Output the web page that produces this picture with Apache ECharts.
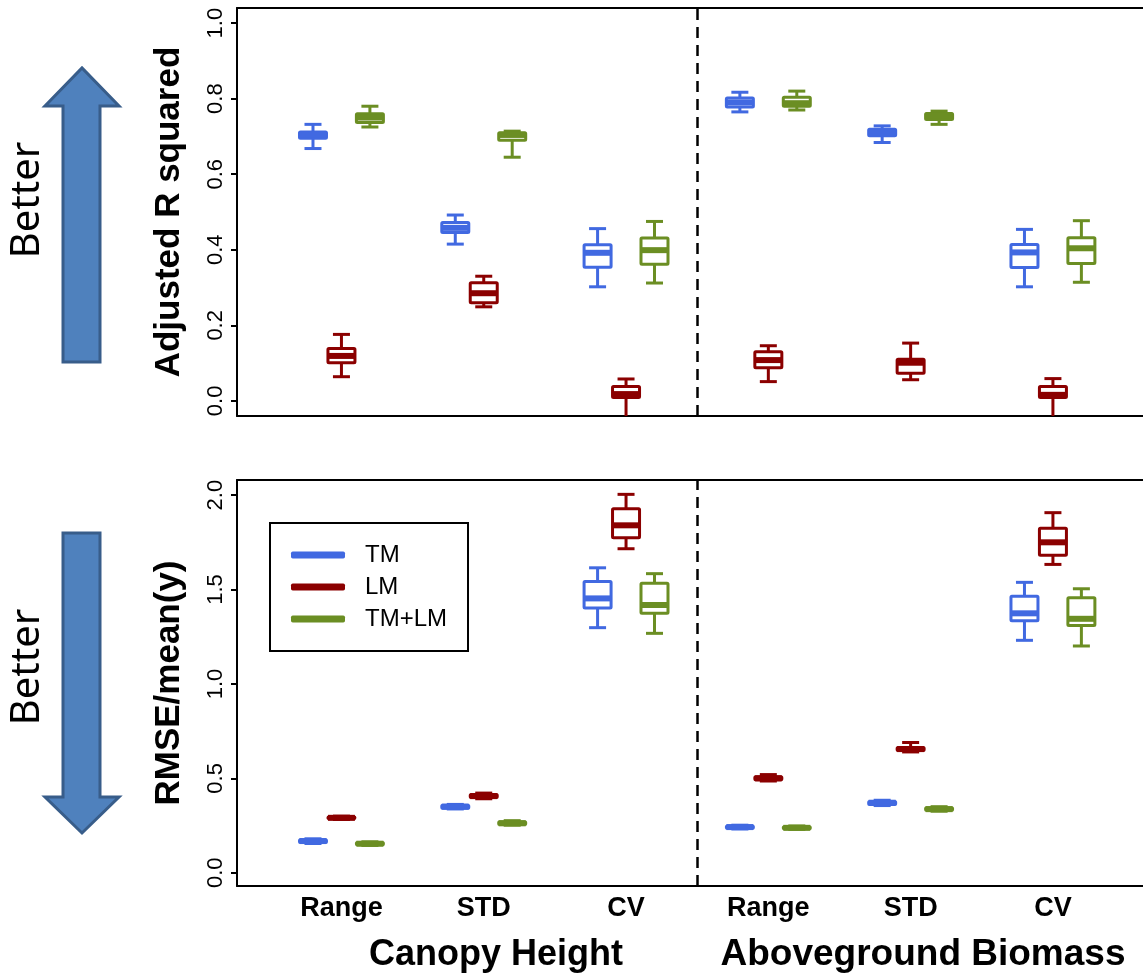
<!DOCTYPE html>
<html>
<head>
<meta charset="utf-8">
<title>Adjusted R squared / RMSE boxplots</title>
<script src="https://cdn.jsdelivr.net/npm/echarts@6/dist/echarts.min.js"></script>
<style>
    html, body { margin: 0; padding: 0; background: #fff; }
    #chart { width: 1143px; height: 975px; }
</style>
</head>
<body>
<div id="chart"></div>
<script>
// categories along the x axis (two groups of three)
var categories = ['Range', 'STD', 'CV', 'Range', 'STD', 'CV'];
var groupTitles = ['Canopy Height', 'Aboveground Biomass'];
var modelNames = ['TM', 'LM', 'TM+LM'];

// each box: [low whisker, Q1, median, Q3, high whisker]
// top panel: adjusted R squared
var r2TM = [
    [0.668, 0.695, 0.704, 0.712, 0.732],
    [0.415, 0.446, 0.458, 0.472, 0.492],
    [0.302, 0.354, 0.392, 0.413, 0.456],
    [0.765, 0.778, 0.790, 0.802, 0.817],
    [0.684, 0.702, 0.711, 0.719, 0.728],
    [0.302, 0.353, 0.393, 0.414, 0.454]
];
var r2LM = [
    [0.064, 0.101, 0.119, 0.139, 0.176],
    [0.249, 0.260, 0.285, 0.313, 0.330],
    [-0.060, 0.009, 0.018, 0.038, 0.058],
    [0.051, 0.088, 0.108, 0.130, 0.146],
    [0.056, 0.073, 0.101, 0.110, 0.153],
    [-0.060, 0.009, 0.016, 0.038, 0.059]
];
var r2TMLM = [
    [0.725, 0.737, 0.750, 0.760, 0.780],
    [0.645, 0.690, 0.704, 0.710, 0.714],
    [0.312, 0.362, 0.399, 0.431, 0.475],
    [0.770, 0.780, 0.788, 0.804, 0.820],
    [0.732, 0.745, 0.755, 0.761, 0.767],
    [0.314, 0.364, 0.404, 0.432, 0.477]
];

// bottom panel: RMSE / mean(y)
var rmseTM = [
    [0.155, 0.160, 0.168, 0.175, 0.180],
    [0.338, 0.342, 0.350, 0.358, 0.362],
    [1.298, 1.402, 1.453, 1.543, 1.615],
    [0.232, 0.236, 0.242, 0.248, 0.252],
    [0.356, 0.362, 0.371, 0.378, 0.384],
    [1.231, 1.335, 1.374, 1.464, 1.538]
];
var rmseLM = [
    [0.282, 0.286, 0.291, 0.296, 0.300],
    [0.392, 0.398, 0.406, 0.414, 0.422],
    [1.716, 1.774, 1.840, 1.928, 2.004],
    [0.486, 0.492, 0.500, 0.508, 0.520],
    [0.640, 0.647, 0.655, 0.664, 0.690],
    [1.633, 1.681, 1.750, 1.824, 1.907]
];
var rmseTMLM = [
    [0.145, 0.149, 0.154, 0.160, 0.164],
    [0.252, 0.256, 0.262, 0.270, 0.276],
    [1.268, 1.374, 1.418, 1.533, 1.584],
    [0.230, 0.233, 0.238, 0.244, 0.248],
    [0.326, 0.331, 0.337, 0.344, 0.350],
    [1.201, 1.310, 1.345, 1.457, 1.504]
];

var r2Ticks = [0, 0.2, 0.4, 0.6, 0.8, 1.0];
var rmseTicks = [0, 0.5, 1.0, 1.5, 2.0];

var colors = ['#4169E1', '#8B0000', '#6B8E23'];
var offsets = [-0.2, 0, 0.2];   // position of each model inside a group
var FONT = '"Liberation Sans", Arial, sans-serif';
// x range; the plot frame runs off the right edge of the picture
var X_MIN = 0.266, X_MAX = 6.633;

// x value = category slot (1..6) + model offset
function toItems(boxes, k) {
    var out = [];
    for (var i = 0; i < boxes.length; i++) {
        out.push([i + 1 + offsets[k]].concat(boxes[i]));
    }
    return out;
}

function renderBox(params, api) {
    var x = api.value(0);
    var lo = api.coord([x, api.value(1)]);
    var q1 = api.coord([x, api.value(2)]);
    var md = api.coord([x, api.value(3)]);
    var q3 = api.coord([x, api.value(4)]);
    var hi = api.coord([x, api.value(5)]);
    var color = api.visual('color');
    var cx = lo[0], hw = 13.5, cw = 8.5;
    var ls = { stroke: color, lineWidth: 3, fill: null };
    return {
        type: 'group',
        children: [
            { type: 'line', shape: { x1: cx, y1: hi[1], x2: cx, y2: q3[1] }, style: ls },
            { type: 'line', shape: { x1: cx, y1: q1[1], x2: cx, y2: lo[1] }, style: ls },
            { type: 'line', shape: { x1: cx - cw, y1: hi[1], x2: cx + cw, y2: hi[1] }, style: ls },
            { type: 'line', shape: { x1: cx - cw, y1: lo[1], x2: cx + cw, y2: lo[1] }, style: ls },
            { type: 'rect', shape: { x: cx - hw, y: q3[1], width: hw * 2, height: q1[1] - q3[1], r: 1 }, style: ls },
            { type: 'line', shape: { x1: cx - hw, y1: md[1], x2: cx + hw, y2: md[1] }, style: { stroke: color, lineWidth: 6 } }
        ]
    };
}

var panels = [[r2TM, r2LM, r2TMLM], [rmseTM, rmseLM, rmseTMLM]];
var series = [];
for (var p = 0; p < panels.length; p++) {
    for (var k = 0; k < 3; k++) {
        var s = {
            name: modelNames[k],
            type: 'custom',
            xAxisIndex: p,
            yAxisIndex: p,
            clip: true,
            itemStyle: { color: colors[k] },
            encode: { x: 0, y: [1, 2, 3, 4, 5] },
            renderItem: renderBox,
            data: toItems(panels[p][k], k),
            z: 3
        };
        if (k === 0) {
            // dashed divider between Canopy Height and Aboveground Biomass
            s.markLine = {
                silent: true,
                symbol: 'none',
                label: { show: false },
                lineStyle: { type: [11, 7], color: '#000', width: 2.5 },
                data: [{ xAxis: 3.5 }]
            };
        }
        series.push(s);
    }
}

function yAxis(grid, min, max, ticks, name) {
    return {
        type: 'value',
        gridIndex: grid,
        min: min,
        max: max,
        name: name,
        nameLocation: 'middle',
        nameGap: 50,
        nameTextStyle: { fontFamily: FONT, fontSize: 35, fontWeight: 'bold', color: '#000' },
        axisLine: { show: true, onZero: false, lineStyle: { color: '#000', width: 2 } },
        axisTick: { show: true, length: 6, customValues: ticks, lineStyle: { color: '#000', width: 2 } },
        axisLabel: {
            rotate: 90,
            margin: 10,
            customValues: ticks,
            fontFamily: FONT,
            fontSize: 22,
            color: '#000',
            formatter: function (v) { return v.toFixed(1); }
        },
        splitLine: { show: false }
    };
}

function xAxis(grid, showLabels) {
    return {
        type: 'value',
        gridIndex: grid,
        min: X_MIN,
        max: X_MAX,
        axisLine: { show: true, onZero: false, lineStyle: { color: '#000', width: 2 } },
        axisTick: { show: false },
        axisLabel: {
            show: showLabels,
            customValues: [1, 2, 3, 4, 5, 6],
            margin: 9,
            fontFamily: FONT,
            fontSize: 27,
            fontWeight: 'bold',
            color: '#000',
            formatter: function (v) { return categories[Math.round(v) - 1]; }
        },
        splitLine: { show: false }
    };
}

// top frame line only, no labels
function topAxis(grid) {
    return {
        type: 'value',
        gridIndex: grid,
        position: 'top',
        min: X_MIN,
        max: X_MAX,
        axisLine: { show: true, onZero: false, lineStyle: { color: '#000', width: 2 } },
        axisTick: { show: false },
        axisLabel: { show: false },
        splitLine: { show: false }
    };
}

var arrowStyle = { fill: '#4F81BD', stroke: '#385D8A', lineWidth: 3 };

var option = {
    animation: false,
    backgroundColor: '#fff',
    grid: [
        { left: 237, right: 0, top: 8, height: 408 },
        { left: 237, right: 0, top: 480, height: 406 }
    ],
    xAxis: [xAxis(0, false), xAxis(1, true), topAxis(0), topAxis(1)],
    yAxis: [
        yAxis(0, -0.04, 1.04, r2Ticks, 'Adjusted R squared'),
        yAxis(1, -0.07, 2.08, rmseTicks, 'RMSE/mean(y)')
    ],
    legend: {
        data: modelNames,
        orient: 'vertical',
        left: 270,
        top: 523,
        padding: [20, 21, 20, 21],
        itemGap: 8,
        itemWidth: 54,
        itemHeight: 7,
        icon: 'roundRect',
        borderColor: '#000',
        borderWidth: 2,
        borderRadius: 0,
        textStyle: { fontFamily: FONT, fontSize: 24, color: '#000', lineHeight: 24, padding: [0, 0, 0, 15] }
    },
    graphic: [
        // "Better" arrows on the far left
        { type: 'polygon', shape: { points: [[63, 362], [63, 106], [45, 106], [82, 68], [119, 106], [100, 106], [100, 362]] }, style: arrowStyle },
        { type: 'polygon', shape: { points: [[63, 533], [63, 797], [45, 797], [82, 833], [119, 797], [100, 797], [100, 533]] }, style: arrowStyle },
        { type: 'text', x: 28, y: 200, rotation: Math.PI / 2,
          style: { text: 'Better', font: '40px "Noto Sans", sans-serif', fill: '#000', textAlign: 'center', textVerticalAlign: 'middle' } },
        { type: 'text', x: 28, y: 667, rotation: Math.PI / 2,
          style: { text: 'Better', font: '40px "Noto Sans", sans-serif', fill: '#000', textAlign: 'center', textVerticalAlign: 'middle' } },
        // group titles under the x axis
        { type: 'text', x: 496, y: 955,
          style: { text: groupTitles[0], font: 'bold 36px "Liberation Sans", Arial, sans-serif', fill: '#000', textAlign: 'center', textVerticalAlign: 'middle' } },
        { type: 'text', x: 923, y: 955,
          style: { text: groupTitles[1], font: 'bold 37px "Liberation Sans", Arial, sans-serif', fill: '#000', textAlign: 'center', textVerticalAlign: 'middle' } }
    ],
    series: series
};

var chart = echarts.init(document.getElementById('chart'), null, { renderer: 'canvas' });
chart.setOption(option);
</script>
</body>
</html>
